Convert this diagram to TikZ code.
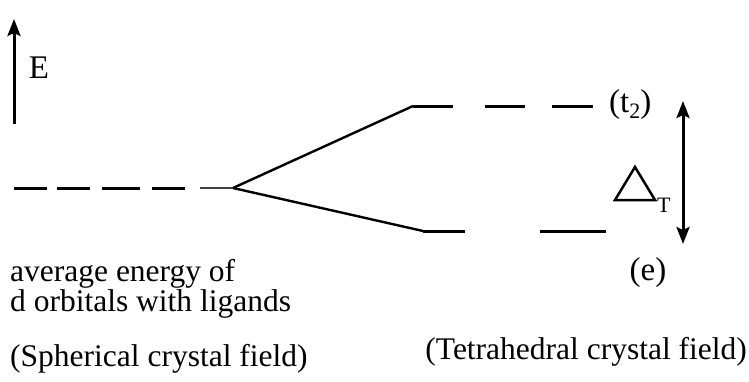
\documentclass[tikz,border=0pt]{standalone}
\usepackage{fontspec}
\setmainfont{Liberation Serif}
\usetikzlibrary{arrows.meta}
\tikzset{
  level/.style={line width=3pt},
  branch/.style={line width=2.4pt},
  arr/.style={line width=3pt},
  tipend/.style={-{Stealth[length=17pt,width=13pt,inset=3pt]}},
  tipboth/.style={{Stealth[length=17pt,width=13pt,inset=3pt]}-{Stealth[length=17pt,width=13pt,inset=3pt]}},
  lbl/.style={inner sep=0pt, font=\fontsize{31.5}{31.5}\selectfont},
}
\begin{document}
\begin{tikzpicture}[x=1pt,y=-1pt]
\path[use as bounding box] (0,0) rectangle (749,381);
% energy axis
\coordinate (Ebot) at (14,124);
\coordinate (Etop) at (14,19);
\draw[arr,tipend] (Ebot) -- (Etop);
\node[lbl, font=\fontsize{33}{33}\selectfont, anchor=base] (E) at (39,78) {E};
% spherical level
\foreach \a/\b in {14/47, 57/90, 102/140, 152/185}
  \draw[level] (\a,188) -- (\b,188);
\coordinate (S0) at (200,188);
\coordinate (S) at (233,188);
\draw[line width=2pt, black!75] (S0) -- (S);
% t2 level
\coordinate (T1) at (413,106);
\draw[branch] (S) -- (T1);
\draw[level] (T1) -- (453,106);
\draw[level] (485,106) -- (525,106);
\draw[level] (552,106) -- (593,106);
% e level
\coordinate (B1) at (423,231);
\draw[branch] (S) -- (B1);
\draw[level] (B1) -- (465,231);
\draw[level] (540,231) -- (606,231);
% labels
\node[lbl, font=\fontsize{33}{33}\selectfont, anchor=base west] (t2) at (609,112) {(t\raisebox{-6pt}{\fontsize{22}{22}\selectfont 2})};
\node[lbl, font=\fontsize{33}{33}\selectfont, anchor=base] (e) at (648,280) {(e)};
% gap arrow
\coordinate (Gtop) at (683,101);
\coordinate (Gbot) at (683,244);
\draw[arr,tipboth] (Gtop) -- (Gbot);
% Delta_T
\draw[line width=2.5pt, line join=miter] (615,200) -- (655,200) -- (635,167) -- cycle;
\node[lbl, font=\fontsize{22}{22}\selectfont, anchor=base west] (T) at (657,212) {T};
% bottom texts
\node[lbl, anchor=base west] (avg1) at (10,281) {average energy of};
\node[lbl, anchor=base west] (avg2) at (10,311) {d orbitals with ligands};
\node[lbl, anchor=base west] (sph) at (10,366) {(Spherical crystal field)};
\node[lbl, anchor=base east] (tet) at (747,359) {(Tetrahedral crystal field)};
\end{tikzpicture}
\end{document}
